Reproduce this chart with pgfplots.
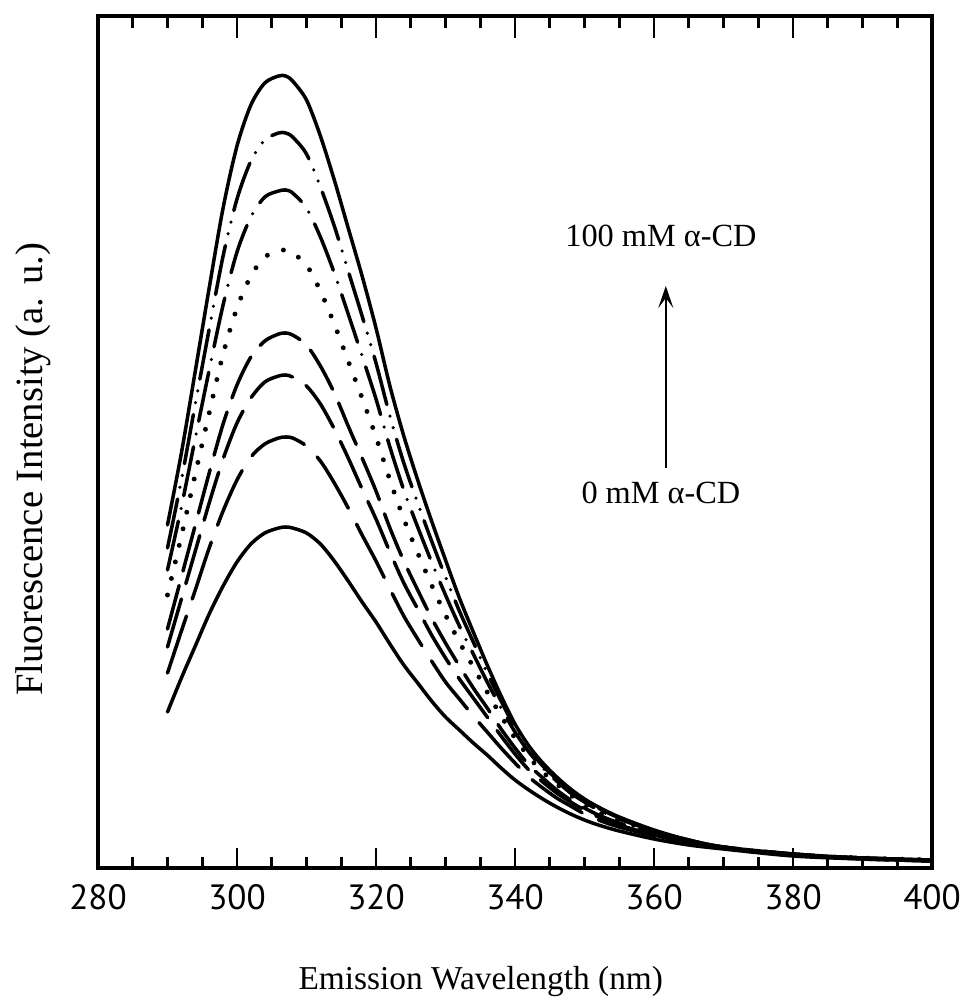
\documentclass[border=0pt]{standalone}
\usepackage{fontspec}
\setmainfont{Liberation Serif}
\newfontfamily\ticksf{PT Sans}
\usepackage{pgfplots}
\usepackage{pgfplotstable}
\pgfplotsset{compat=1.18}
\usetikzlibrary{arrows.meta}

% emission spectra, heights in arbitrary units (0 ... 852)
\pgfplotstableread{
x   c1  c2  c3  c4  c5  c6  c7  c8
290 343 320 298 273 239 221 195 156
292 415 388 361 332 291 269 237 190
294 497 464 430 394 343 317 278 222
296 580 539 498 455 395 365 320 254
298 660 612 563 514 444 409 357 282
300 722 669 616 560 483 445 388 306
302 763 707 651 592 511 470 411 324
304 785 728 671 611 527 486 424 335
306 792 735 677 617 534 492 430 340
307 792 735 678 618 535 493 431 341
308 787 731 675 615 533 491 430 340
310 768 714 660 603 523 482 422 335
312 732 681 631 577 502 464 407 324
314 688 642 595 544 475 439 385 307
316 640 597 554 507 442 410 360 287
318 592 552 512 470 410 379 333 266
320 540 505 469 431 377 349 307 246
322 482 452 421 388 340 316 279 224
324 432 405 378 349 307 285 252 203
326 388 365 341 315 278 259 229 185
328 347 327 306 283 250 233 207 167
330 308 291 273 253 225 210 186 151
332 270 257 242 226 202 189 169 138
334 236 226 214 201 180 170 152 125
336 203 195 186 176 160 151 136 113
338 172 167 160 152 139 132 120 100
340 144 140 136 130 120 114 105 88
342 122 119 116 111 103 98  91  78
344 105 102 100 96  90  86  80  69
346 91  89  87  84  78  75  70  61
348 79  77  75  73  68  66  62  54
350 69  68  66  64  60  58  54  48
352 61  60  58  56  53  51  48  43
355 51  50  49  48  45  43  41  37
360 38  37  37  36  34  33  32  29
365 28  28  27  27  26  25  25  23
370 21  21  21  20  20  20  20  19
380 14  14  14  13  13  13  13  12
390 10  10  10  10  10  10  9   9
400 8   8   8   8   8   7   7   7
}\spectra

\begin{document}
\begin{tikzpicture}
\begin{axis}[
  name=ax,
  scale only axis,
  width=8.34cm,
  height=8.52cm,
  xmin=280, xmax=400,
  ymin=0, ymax=852,
  xtick={280,300,...,400},
  minor x tick num=3,
  ytick=\empty,
  xtick pos=both,
  tick align=inside,
  major tick length=0.2cm,
  minor tick length=0.11cm,
  tick style={black,line width=0.85pt},
  axis line style={line width=0.9pt},
  /pgf/number format/assume math mode=true,
  /pgf/number format/1000 sep={},
  tick label style={font=\ticksf\fontsize{10}{11}\selectfont},
  xticklabel style={yshift=-0.04cm},
  xlabel={Emission Wavelength (nm)},
  xlabel style={font=\fontsize{9.5}{11}\selectfont,inner sep=0pt,at={(axis description cs:0.459,0)},anchor=base,yshift=-1.21cm},
  ylabel={Fluorescence Intensity (a. u.)},
  ylabel style={font=\fontsize{11}{12}\selectfont,inner sep=0pt,at={(axis description cs:0,0.468)},anchor=base,yshift=0.55cm},
  every axis plot/.append style={black,line width=1pt,smooth,line cap=round,no markers},
]
\addplot[black] table[x=x,y=c1] {\spectra};
\addplot[black,dash pattern=on 5mm off 1.2mm on 0pt off 1.2mm on 0pt off 1.2mm] table[x=x,y=c2] {\spectra};
\addplot[black,dash pattern=on 5mm off 1.3mm on 0pt off 1.3mm] table[x=x,y=c3] {\spectra};
\addplot[black,line width=1.4pt,dash pattern=on 0pt off 1.7mm] table[x=x,y=c4] {\spectra};
\addplot[black,dash pattern=on 4.5mm off 1.5mm] table[x=x,y=c5] {\spectra};
\addplot[black,dash pattern=on 5mm off 1.6mm] table[x=x,y=c6] {\spectra};
\addplot[black,dash pattern=on 6mm off 1.8mm] table[x=x,y=c7] {\spectra};
\addplot[black] table[x=x,y=c8] {\spectra};

\node[font=\fontsize{9.2}{11}\selectfont] at (axis cs:361,632) {100 mM α-CD};
\node[font=\fontsize{9.2}{11}\selectfont] at (axis cs:361,375) {0 mM α-CD};
\draw[line width=0.6pt,-{Stealth[length=2.2mm,width=1.5mm,inset=1mm]}] (axis cs:361.7,400) -- (axis cs:361.7,582);
\end{axis}
% top ticks, drawn by a second axis over the first
\begin{axis}[
  scale only axis,
  width=8.34cm,
  height=8.52cm,
  xmin=280, xmax=400,
  ymin=0, ymax=852,
  axis x line*=top,
  axis y line=none,
  xtick={280,300,...,400},
  minor x tick num=3,
  xticklabels={},
  tick align=inside,
  major tick length=0.22cm,
  minor tick length=0.12cm,
  tick style={black,line width=0.85pt},
  axis line style={line width=0.9pt},
]
\end{axis}
\pgfresetboundingbox
\path ([xshift=-0.98cm,yshift=-1.30cm]ax.south west) rectangle ([xshift=0.31cm,yshift=0.16cm]ax.north east);
\end{tikzpicture}
\end{document}
